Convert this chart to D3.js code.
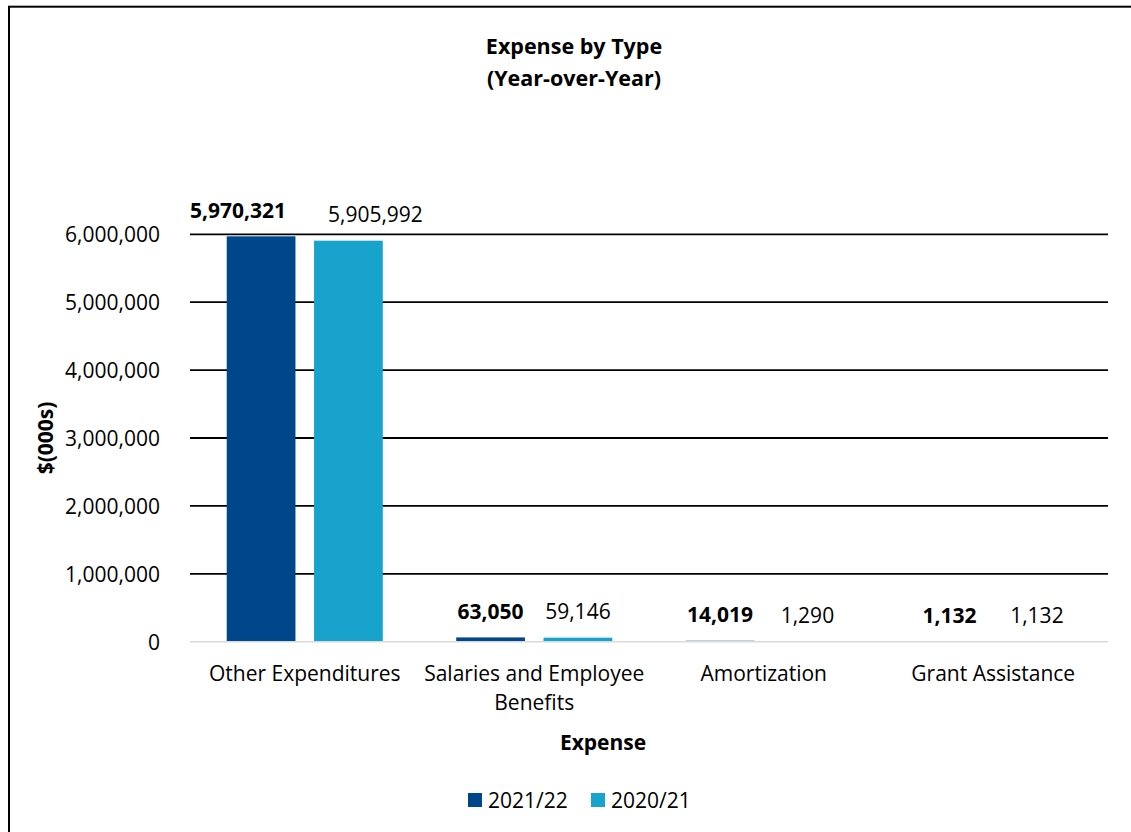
<!DOCTYPE html>
<html>
<head>
<meta charset="utf-8">
<script src="https://cdn.jsdelivr.net/npm/d3@7"></script>
<style>
  html, body { margin: 0; padding: 0; background: #fff; }
  svg { display: block; }
  text { font-family: "Open Sans", sans-serif; fill: #000; }
</style>
</head>
<body>
<svg id="chart" width="1131" height="832"></svg>
<script>
const categories = ["Other Expenditures", "Salaries and Employee Benefits", "Amortization", "Grant Assistance"];
const categoryLines = [["Other Expenditures"], ["Salaries and Employee", "Benefits"], ["Amortization"], ["Grant Assistance"]];
const seriesNames = ["2021/22", "2020/21"];
const values2122 = [5970321, 63050, 14019, 1132];
const values2021 = [5905992, 59146, 1290, 1132];
const yTicks = [0, 1000000, 2000000, 3000000, 4000000, 5000000, 6000000];
const colors = ["#00468b", "#17a3cb"];
// horizontal nudges of the data labels (manually moved in the original to avoid overlap)
const labelNudge = [[-23, 27], [0, 0], [0, 0], [0, 0]];

const FS = "21px";
const svg = d3.select("#chart");

// frame
svg.append("rect")
  .attr("x", 9).attr("y", 6.7)
  .attr("width", 1140).attr("height", 840)
  .attr("fill", "none").attr("stroke", "#000").attr("stroke-width", 2);

const plotLeft = 190, plotRight = 1108, plotTop = 234.3, plotBottom = 641.7;

const x0 = d3.scaleBand().domain(categories).range([plotLeft, plotRight]).paddingInner(0.32).paddingOuter(0.16);
const x1 = d3.scaleBand().domain(seriesNames).range([0, x0.bandwidth()]).paddingInner(0.213).paddingOuter(0);
const y = d3.scaleLinear().domain([0, 6000000]).range([plotBottom, plotTop]);

// gridlines
svg.append("g").selectAll("line")
  .data(yTicks.filter(d => d > 0))
  .join("line")
  .attr("x1", plotLeft).attr("x2", plotRight)
  .attr("y1", d => y(d)).attr("y2", d => y(d))
  .attr("stroke", "#000").attr("stroke-width", 1.8);

// y axis labels
const fmt = d3.format(",");
svg.append("g").selectAll("text")
  .data(yTicks)
  .join("text")
  .attr("x", 160).attr("y", d => y(d))
  .attr("text-anchor", "end")
  .attr("dominant-baseline", "central")
  .style("font-size", FS)
  .text(d => fmt(d));

// bars
const data = categories.map((c, i) => ({ cat: c, i, vals: [values2122[i], values2021[i]] }));
const groups = svg.append("g").selectAll("g")
  .data(data)
  .join("g")
  .attr("transform", d => `translate(${x0(d.cat)},0)`);

groups.selectAll("rect")
  .data(d => d.vals.map((v, j) => ({ v, s: seriesNames[j], j, i: d.i })))
  .join("rect")
  .attr("x", d => x1(d.s))
  .attr("width", x1.bandwidth())
  .attr("y", d => y(d.v))
  .attr("height", d => plotBottom - y(d.v))
  .attr("fill", d => colors[d.j]);

groups.selectAll("text.val")
  .data(d => d.vals.map((v, j) => ({ v, s: seriesNames[j], j, i: d.i })))
  .join("text")
  .attr("class", "val")
  .attr("x", d => x1(d.s) + x1.bandwidth() / 2 + labelNudge[d.i][d.j])
  .attr("y", d => y(d.v) - 18.5)
  .attr("text-anchor", "middle")
  .style("font-size", FS)
  .style("font-weight", d => d.j === 0 ? "bold" : "normal")
  .text(d => fmt(d.v));

// zero axis line
svg.append("line")
  .attr("x1", plotLeft).attr("x2", plotRight)
  .attr("y1", y(0)).attr("y2", y(0))
  .attr("stroke", "#d9d9d9").attr("stroke-width", 1.5);

// x labels
const xl = svg.append("g").selectAll("text")
  .data(categories.map((c, i) => ({ c, lines: categoryLines[i] })))
  .join("text")
  .attr("text-anchor", "middle")
  .style("font-size", FS);
xl.each(function(d) {
  const t = d3.select(this);
  d.lines.forEach((ln, k) => {
    t.append("tspan")
      .attr("x", x0(d.c) + x0.bandwidth() / 2)
      .attr("y", 673 + k * 29)
      .attr("dominant-baseline", "central")
      .text(ln);
  });
});

// titles
svg.append("text").attr("x", 574).attr("y", 45).attr("text-anchor", "middle")
  .attr("dominant-baseline", "central")
  .style("font-size", "21.5px").style("font-weight", "bold").text("Expense by Type");
svg.append("text").attr("x", 574).attr("y", 77).attr("text-anchor", "middle")
  .attr("dominant-baseline", "central")
  .style("font-size", "21.5px").style("font-weight", "bold").text("(Year-over-Year)");

svg.append("text").attr("x", 603).attr("y", 742).attr("text-anchor", "middle")
  .attr("dominant-baseline", "central")
  .style("font-size", FS).style("font-weight", "bold").text("Expense");

svg.append("text")
  .attr("transform", `translate(45,${(plotTop + plotBottom) / 2}) rotate(-90)`)
  .attr("text-anchor", "middle")
  .attr("dominant-baseline", "central")
  .style("font-size", FS).style("font-weight", "bold").text("$(000s)");

// legend
const legendX = [468, 591];
const lg = svg.append("g").selectAll("g")
  .data(seriesNames)
  .join("g")
  .attr("transform", (d, i) => `translate(${legendX[i]},793)`);
lg.append("rect").attr("width", 14).attr("height", 14).attr("fill", (d, i) => colors[i]);
lg.append("text").attr("x", 20).attr("y", 7).attr("dominant-baseline", "central")
  .style("font-size", FS).text(d => d);
</script>
</body>
</html>
